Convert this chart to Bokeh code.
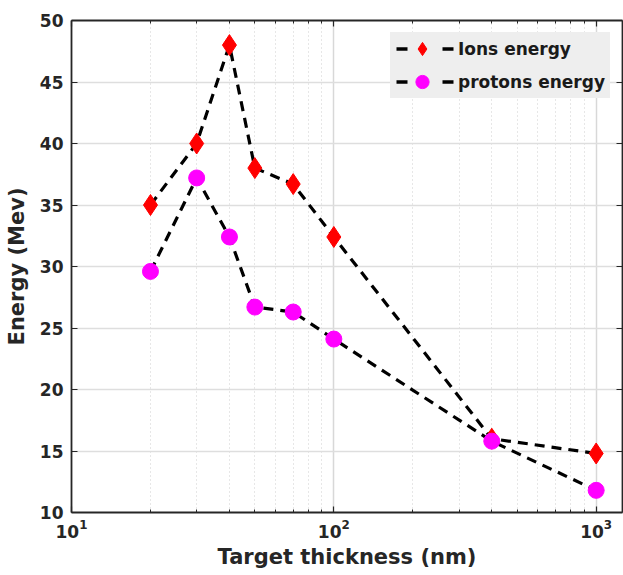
from bokeh.plotting import figure
from bokeh.models import (Range1d, LinearAxis, LogAxis, FixedTicker, Legend, LegendItem)
from bokeh.embed import file_html
from bokeh.resources import INLINE

thickness = [20, 30, 40, 50, 70, 100, 400, 1000]
ions_energy = [35.0, 40.0, 48.0, 38.0, 36.7, 32.4, 16.0, 14.8]
protons_energy = [29.6, 37.2, 32.4, 26.7, 26.3, 24.1, 15.8, 11.8]
y_ticks = [10, 15, 20, 25, 30, 35, 40, 45, 50]
x_major = [10, 100, 1000]
x_minor = [20, 30, 40, 50, 60, 70, 80, 90, 200, 300, 400, 500, 600, 700, 800, 900]

AX = "#262626"
FONT = "DejaVu Sans"

p = figure(width=623, height=575, x_axis_type="log", output_backend="svg",
           toolbar_location=None, x_range=Range1d(10, 1260), y_range=Range1d(10, 50),
           min_border_left=71, min_border_right=1, min_border_top=20, min_border_bottom=63)
p.outline_line_color = None
p.background_fill_color = "white"
p.border_fill_color = "white"

# grids
p.xgrid.ticker = FixedTicker(ticks=x_major, minor_ticks=x_minor)
p.xgrid.grid_line_color = "#d8d8d8"
p.xgrid.grid_line_width = 1.5
p.xgrid.minor_grid_line_color = "#cfcfcf"
p.xgrid.minor_grid_line_dash = "1 3"
p.ygrid.ticker = FixedTicker(ticks=y_ticks)
p.ygrid.grid_line_color = "#dedede"
p.ygrid.grid_line_width = 1.5

def style(ax, labels=True):
    ax.axis_line_color = AX
    ax.axis_line_width = 1.8
    ax.major_tick_line_color = AX
    ax.minor_tick_line_color = AX
    ax.major_tick_line_width = 1.2
    ax.major_tick_in = 6
    ax.major_tick_out = 0
    ax.minor_tick_in = 3
    ax.minor_tick_out = 0
    ax.major_label_text_font = FONT
    ax.major_label_text_font_style = "bold"
    ax.major_label_text_font_size = "17px"
    ax.major_label_text_color = AX
    ax.axis_label_text_font = FONT
    ax.axis_label_text_font_style = "bold"
    ax.axis_label_text_font_size = "20px"
    ax.axis_label_text_color = AX
    if not labels:
        ax.major_label_text_font_size = "0px"
        ax.major_label_text_alpha = 0

xa = p.xaxis[0]
xa.ticker = FixedTicker(ticks=x_major, minor_ticks=x_minor)
xa.axis_label = "Target thickness (nm)"
style(xa)
xa.major_label_standoff = 6
xa.axis_label_standoff = 4
xa.axis_label_text_font_size = "21px"

ya = p.yaxis[0]
ya.ticker = FixedTicker(ticks=y_ticks)
ya.axis_label = "Energy (Mev)"
style(ya)
ya.major_label_standoff = 8
ya.axis_label_standoff = 8
ya.minor_tick_in = 0
ya.axis_label_text_font_size = "21px"

top = LogAxis(ticker=FixedTicker(ticks=x_major, minor_ticks=x_minor))
style(top, labels=False)
p.add_layout(top, "above")

right = LinearAxis(ticker=FixedTicker(ticks=y_ticks))
style(right, labels=False)
right.minor_tick_in = 0
p.add_layout(right, "right")

l1 = p.line(thickness, ions_energy, line_color="black", line_dash="10 7", line_width=3.2)
m1 = p.scatter(thickness, ions_energy, marker="diamond", size=21, fill_color="red", line_color="red")
l2 = p.line(thickness, protons_energy, line_color="black", line_dash="10 7", line_width=3.2)
m2 = p.scatter(thickness, protons_energy, marker="circle", size=16, fill_color="magenta", line_color="magenta")

# legend-only line styles (short dash either side of the marker), kept outside the view
g1 = p.line([1, 2], [0, 0], line_color="black", line_dash="11 35", line_dash_offset=40, line_width=3.5)
g2 = p.line([1, 2], [0, 0], line_color="black", line_dash="11 35", line_dash_offset=40, line_width=3.5)

legend = Legend(items=[LegendItem(label="Ions energy", renderers=[g1, m1]),
                       LegendItem(label="protons energy", renderers=[g2, m2])],
                location="top_right")
legend.background_fill_color = "#eeeeee"
legend.background_fill_alpha = 1
legend.border_line_color = None
legend.label_text_font = FONT
legend.label_text_font_style = "bold"
legend.label_text_font_size = "17px"
legend.label_text_color = "#1a1a1a"
legend.glyph_width = 64
legend.glyph_height = 33
legend.label_height = 24
legend.label_width = 152
legend.spacing = -4
legend.padding = 0
legend.margin = 12
legend.label_standoff = 4
p.add_layout(legend)

open("out.html", "w").write(file_html(p, INLINE))
